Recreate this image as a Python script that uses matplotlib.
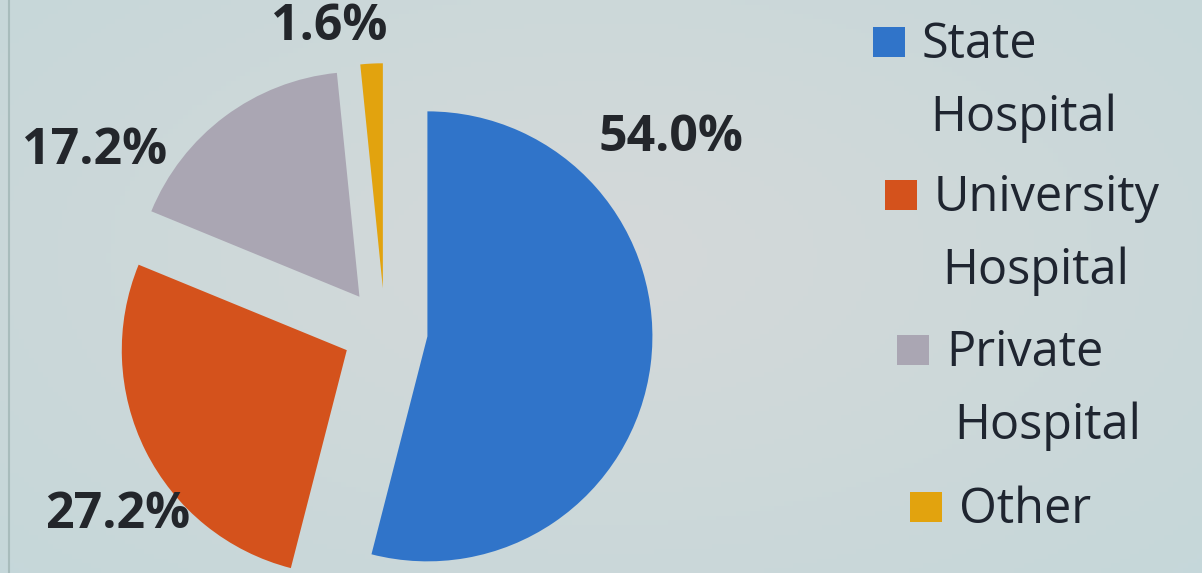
import numpy as np
import matplotlib.pyplot as plt
from matplotlib.patches import Rectangle

## hospital types and their share of cases (%)
categories = ["State Hospital", "University Hospital", "Private Hospital", "Other"]
shares = [54.0, 27.2, 17.2, 1.6]
colors = ["#3074c9", "#d4521c", "#aaa6b3", "#e2a30e"]
pct_labels = ["54.0%", "27.2%", "17.2%", "1.6%"]

## where each percentage sits, in pie units (radius 1, centre at 0,0)
label_xy = [(1.27, 0.86), (-1.19, -0.82), (-1.29, 0.80), (-0.25, 1.35)]

W, H = 1202, 573
fig = plt.figure(figsize=(W / 100, H / 100), dpi=100)

## soft slide background, greyer in the middle and more teal at the edges
bg = fig.add_axes([0, 0, 1, 1])
yy, xx = np.mgrid[0:1:120j, 0:1:250j]
d = np.sqrt(((xx - 0.5) / 0.7) ** 2 + ((yy - 0.45) / 0.8) ** 2)
d = np.clip(d, 0, 1)[..., None]
inner = np.array([0.835, 0.850, 0.852])
outer = np.array([0.775, 0.845, 0.855])
img = inner * (1 - d) + outer * d
bg.imshow(img, extent=[0, W, H, 0], aspect="auto")
bg.plot([9, 9], [0, H], color="#a8bcbc", lw=1.5)
bg.set_xlim(0, W)
bg.set_ylim(H, 0)
bg.axis("off")

## pie, 225 px per unit, centred at pixel (385, 331)
scale = 225.0
cx, cy = 385.0, 331.0
ax = fig.add_axes([0, 0, 1, 1])
ax.patch.set_alpha(0)
ax.pie(shares, colors=colors, startangle=90, counterclock=False,
       explode=[0.19] * len(shares), radius=1.0,
       wedgeprops=dict(linewidth=0))
ax.set_aspect("auto")
ax.set_xlim(-cx / scale, (W - cx) / scale)
ax.set_ylim(-(H - cy) / scale, cy / scale)
ax.axis("off")

for lab, (x, y) in zip(pct_labels, label_xy):
    ax.text(x, y, lab, ha="center", va="center", fontsize=36,
            fontweight="bold", family="Open Sans", color="#23262b")

## legend drawn by hand so the two-line labels space out like the slide
lg = fig.add_axes([0, 0, 1, 1])
lg.patch.set_alpha(0)
lg.set_xlim(0, W)
lg.set_ylim(H, 0)
lg.axis("off")

sq_x = [873, 885, 897, 910]
sq_y = [27, 180, 335, 492]
for name, col, x, y in zip(categories, colors, sq_x, sq_y):
    lg.add_patch(Rectangle((x, y), 32, 30, color=col, lw=0))
    words = name.split(" ", 1)
    for k, w in enumerate(words):
        lg.text(x + 49 + 8 * k, y + 31 + 73 * k, w, ha="left", va="baseline",
                fontsize=35, family="Open Sans", color="#1f2530")

fig.savefig("out.png", dpi=100)
